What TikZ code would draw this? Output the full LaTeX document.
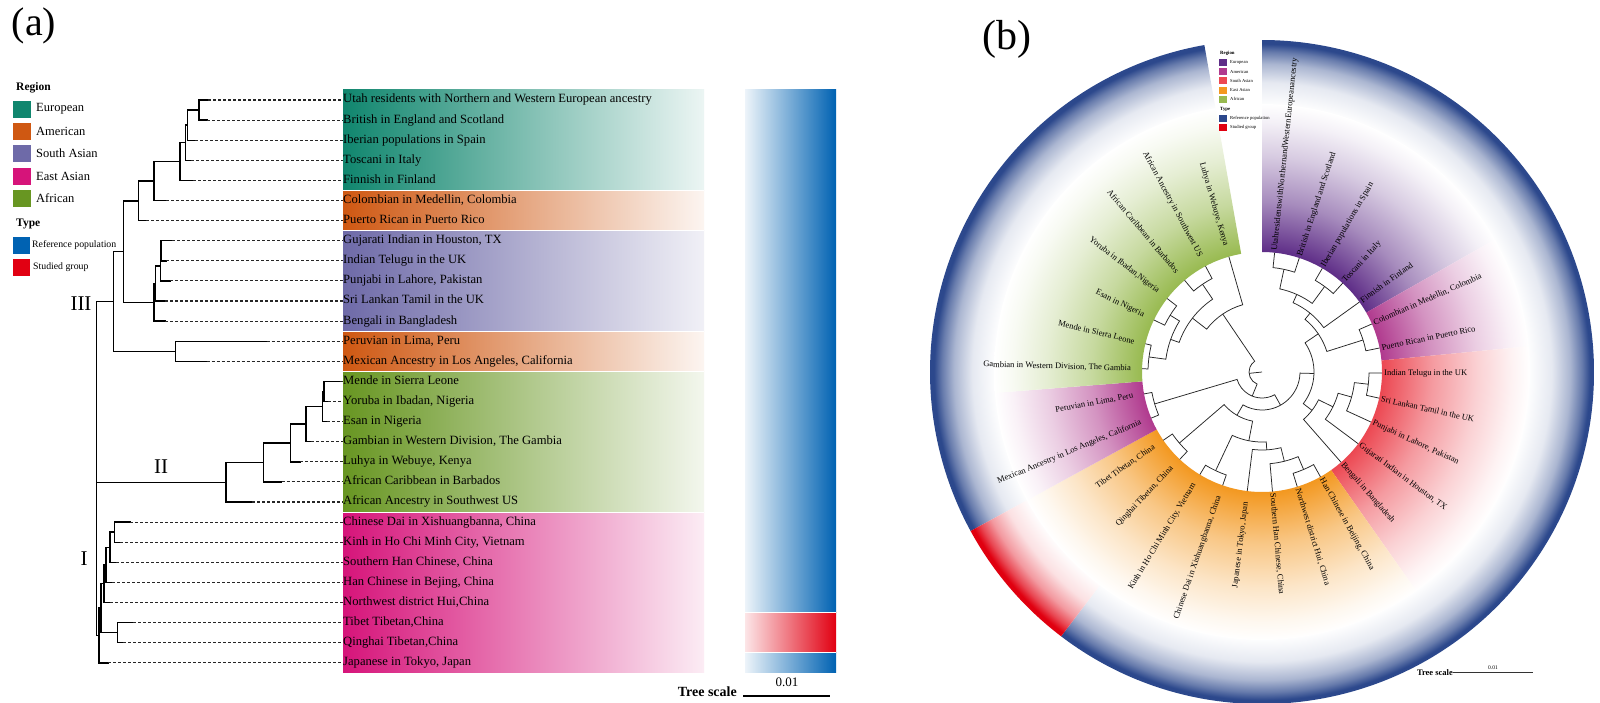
\documentclass[tikz,border=0pt]{standalone}
\usepackage{fontspec}
\setmainfont{Liberation Serif}
\usetikzlibrary{calc}
% panel a colours
\definecolor{eu}{RGB}{16,134,110}
\definecolor{am}{RGB}{207,88,18}
\definecolor{sa}{RGB}{110,106,168}
\definecolor{ea}{RGB}{214,20,122}
\definecolor{af}{RGB}{104,150,34}
\definecolor{refa}{RGB}{0,98,178}
\definecolor{stud}{RGB}{225,0,18}
% panel b colours
\definecolor{eub}{RGB}{94,45,135}
\definecolor{amb}{RGB}{176,58,142}
\definecolor{sab}{RGB}{236,72,82}
\definecolor{eab}{RGB}{243,152,32}
\definecolor{afb}{RGB}{152,186,80}
\definecolor{refb}{RGB}{44,72,140}
\definecolor{studb}{RGB}{224,0,16}
\newcommand\mkshades[1]{%
  \colorlet{#1A}{#1!55!white}\colorlet{#1B}{#1!25!white}\colorlet{#1C}{#1!7!white}%
  \pgfdeclareradialshading{sec#1}{\pgfpoint{0bp}{0bp}}{color(0bp)=(#1); color(11.2bp)=(#1); color(15.9bp)=(#1A); color(20.1bp)=(#1B); color(23.3bp)=(#1C); color(25bp)=(white); color(50bp)=(white)}}
\mkshades{eub}\mkshades{amb}\mkshades{sab}\mkshades{eab}\mkshades{afb}
\newcommand\mkring[1]{%
  \colorlet{#1R}{#1!12!white}\colorlet{#1S}{#1!40!white}\colorlet{#1T}{#1!72!white}%
  \pgfdeclareradialshading{ring#1}{\pgfpoint{0bp}{0bp}}{color(0bp)=(white); color(20bp)=(white); color(21.8bp)=(#1R); color(23.2bp)=(#1S); color(24.1bp)=(#1T); color(24.7bp)=(#1); color(25bp)=(#1); color(50bp)=(#1)}}
\mkring{refb}\mkring{studb}
\newcommand\fsz[1]{\fontsize{#1}{#1}\selectfont}
% panel a tree helpers
\newcommand\tipa[3]{\draw[tra] (#2,-#1) -- (#3,-#1); \draw[dsh] (#3,-#1) -- (343,-#1);}
\newcommand\vla[3]{\draw[tra] (#1,-#2) -- (#1,-#3);}
\newcommand\hla[3]{\draw[tra] (#2,-#1) -- (#3,-#1);}
% panel b helpers
\newcommand\btnode[6]{%
  \draw[btree] ($(C)+({#3}:#4)$) -- ($(C)+({#3}:#2)$) arc[start angle={#3}, end angle={#5}, radius=#2] -- ($(C)+({#5}:#6)$);
  \pgfmathsetmacro#1{(#3+#5)/2}}
\newcommand\secclip[4]{\clip ($(C)+({#1}:#3)$) arc[start angle={#1}, end angle={#2}, radius=#3] -- ($(C)+({#2}:#4)$) arc[start angle={#2}, end angle={#1}, radius=#4] -- cycle;}
\begin{document}
\begin{tikzpicture}[x=1pt,y=1pt,
  tra/.style={line width=1.4pt, black, line cap=rect},
  dsh/.style={line width=1.1pt, black!85, dash pattern=on 3pt off 2pt},
  lab/.style={anchor=west, inner sep=0pt, font=\fsz{12.6}, text height=8.5pt, text depth=2.6pt},
  lgt/.style={anchor=west, inner sep=0pt, font=\fsz{12.5}},
  btree/.style={line width=0.75pt, black!85},
  blab/.style={inner sep=0pt, font=\fsz{8.5}},
  lgb/.style={anchor=west, inner sep=0pt, font=\fsz{4.6}}]
\useasboundingbox (0,0) rectangle (1600,-702);
\fill[white] (0,0) rectangle (1600,-702);
% ================= panel (a) =================
\node[font=\fsz{40}] (pa) at (34,-26) {(a)};
% legend
\node[lgt, font=\bfseries\fsz{11.5}] (lgR) at (16,-88) {Region};
\fill[eu] (13,-100.5) rectangle (31,-117.5);
\node[lgt] (lg1) at (36,-109) {European};
\fill[am] (13,-122.5) rectangle (31,-139.5);
\node[lgt] (lg2) at (36,-131) {American};
\fill[sa] (13,-144.5) rectangle (31,-161.5);
\node[lgt] (lg3) at (36,-153) {South Asian};
\fill[ea] (13,-167.5) rectangle (31,-184.5);
\node[lgt] (lg4) at (36,-176) {East Asian};
\fill[af] (13,-189.5) rectangle (31,-206.5);
\node[lgt] (lg5) at (36,-198) {African};
\node[lgt, font=\bfseries\fsz{11.5}] (lgT) at (16,-224) {Type};
\fill[refa] (13,-236.5) rectangle (30,-253.5);
\node[lgt, font=\fsz{9.8}] (lg6) at (32,-245) {Reference population};
\fill[stud] (13,-258.5) rectangle (30,-275.5);
\node[lgt, font=\fsz{9.8}] (lg7) at (33,-267) {Studied group};
% coloured bands
\shade[left color=eu, middle color=eu!33!white, right color=eu!8!white] (343,-89.95) rectangle (704,-190.45);
\shade[left color=am, middle color=am!30!white, right color=am!6!white] (343,-190.45) rectangle (704,-230.65);
\shade[left color=sa, middle color=sa!33!white, right color=sa!10!white] (343,-230.65) rectangle (704,-331.15);
\shade[left color=am, middle color=am!30!white, right color=am!6!white] (343,-331.15) rectangle (704,-371.35);
\shade[left color=af, middle color=af!30!white, right color=af!8!white] (343,-371.35) rectangle (704,-512.05);
\shade[left color=ea, middle color=ea!38!white, right color=ea!8!white] (343,-512.05) rectangle (704,-672.85);
\foreach \yy in {190.45,230.65,331.15,371.35,512.05} \draw[white, line width=0.8pt] (343,-\yy) -- (704,-\yy);
% type bar
\shade[left color=refa!7!white, middle color=refa!35!white, right color=refa] (745,-89.95) rectangle (836,-612.55);
\shade[left color=stud!10!white, middle color=stud!35!white, right color=stud] (745,-612.55) rectangle (836,-652.75);
\shade[left color=refa!7!white, middle color=refa!35!white, right color=refa] (745,-652.75) rectangle (836,-672.85);
\draw[white, line width=0.8pt] (745,-612.55) -- (836,-612.55) (745,-652.75) -- (836,-652.75);
% labels
\node[lab] (la1) at (343,-100) {Utah residents with Northern and Western European ancestry};
\node[lab] (la2) at (343,-120.1) {British in England and Scotland};
\node[lab] (la3) at (343,-140.2) {Iberian populations in Spain};
\node[lab] (la4) at (343,-160.3) {Toscani in Italy};
\node[lab] (la5) at (343,-180.4) {Finnish in Finland};
\node[lab] (la6) at (343,-200.5) {Colombian in Medellin, Colombia};
\node[lab] (la7) at (343,-220.6) {Puerto Rican in Puerto Rico};
\node[lab] (la8) at (343,-240.7) {Gujarati Indian in Houston, TX};
\node[lab] (la9) at (343,-260.8) {Indian Telugu in the UK};
\node[lab] (la10) at (343,-280.9) {Punjabi in Lahore, Pakistan};
\node[lab] (la11) at (343,-301.0) {Sri Lankan Tamil in the UK};
\node[lab] (la12) at (343,-321.1) {Bengali in Bangladesh};
\node[lab] (la13) at (343,-341.2) {Peruvian in Lima, Peru};
\node[lab] (la14) at (343,-361.3) {Mexican Ancestry in Los Angeles, California};
\node[lab] (la15) at (343,-381.4) {Mende in Sierra Leone};
\node[lab] (la16) at (343,-401.5) {Yoruba in Ibadan, Nigeria};
\node[lab] (la17) at (343,-421.6) {Esan in Nigeria};
\node[lab] (la18) at (343,-441.7) {Gambian in Western Division, The Gambia};
\node[lab] (la19) at (343,-461.8) {Luhya in Webuye, Kenya};
\node[lab] (la20) at (343,-481.9) {African Caribbean in Barbados};
\node[lab] (la21) at (343,-502.0) {African Ancestry in Southwest US};
\node[lab] (la22) at (343,-522.1) {Chinese Dai in Xishuangbanna, China};
\node[lab] (la23) at (343,-542.2) {Kinh in Ho Chi Minh City, Vietnam};
\node[lab] (la24) at (343,-562.3) {Southern Han Chinese, China};
\node[lab] (la25) at (343,-582.4) {Han Chinese in Bejing, China};
\node[lab] (la26) at (343,-602.5) {Northwest district Hui,China};
\node[lab] (la27) at (343,-622.6) {Tibet Tibetan,China};
\node[lab] (la28) at (343,-642.7) {Qinghai Tibetan,China};
\node[lab] (la29) at (343,-662.8) {Japanese in Tokyo, Japan};
% tree tips
\tipa{100}{199}{208}
\tipa{120.1}{199}{207}
\tipa{140.2}{187.7}{195}
\tipa{160.3}{185.7}{191}
\tipa{180.4}{180}{193}
\tipa{200.5}{154}{166}
\tipa{220.6}{138.3}{146}
\tipa{240.7}{161}{172}
\tipa{260.8}{161}{166}
\tipa{280.9}{160.5}{170}
\tipa{301.0}{155.5}{165}
\tipa{321.1}{154}{165}
\tipa{341.2}{175.7}{266.7}
\tipa{361.3}{175.7}{206.7}
\tipa{381.4}{324}{340}
\tipa{401.5}{324}{328}
\tipa{421.6}{322.3}{327}
\tipa{441.7}{306}{311}
\tipa{461.8}{290.7}{300}
\tipa{481.9}{263.3}{281.7}
\tipa{502.0}{226}{252}
\tipa{522.1}{114.3}{130}
\tipa{542.2}{114.3}{120}
\tipa{562.3}{110}{116}
\tipa{582.4}{106}{112}
\tipa{602.5}{104}{110}
\tipa{622.6}{117.3}{133}
\tipa{642.7}{117.3}{123}
\tipa{662.8}{99}{108}
% internal verticals
\vla{199}{100}{120.1}
\vla{187.7}{110.05}{140.2}
\vla{185.7}{125.1}{160.3}
\vla{180}{142.7}{180.4}
\vla{154}{161.55}{200.5}
\vla{138.3}{181.0}{220.6}
\vla{161}{240.7}{260.8}
\vla{160.5}{250.75}{280.9}
\vla{155.5}{265.8}{301.0}
\vla{154}{283.4}{321.1}
\vla{123.3}{200.8}{302.25}
\vla{175.7}{341.2}{361.3}
\vla{113.3}{251.5}{351.25}
\vla{324}{381.4}{401.5}
\vla{322.3}{391.45}{421.6}
\vla{306}{406.5}{441.7}
\vla{290.7}{424.1}{461.8}
\vla{263.3}{442.95}{481.9}
\vla{226}{462.4}{502.0}
\vla{114.3}{522.1}{542.2}
\vla{110}{532.15}{562.3}
\vla{106}{547.2}{582.4}
\vla{104}{564.8}{602.5}
\vla{117.3}{622.6}{642.7}
\vla{101}{583.65}{632.65}
\vla{99}{608.15}{662.8}
\vla{96.7}{301.4}{635.5}
% internal horizontals
\hla{110.05}{187.7}{199}
\hla{125.1}{185.7}{187.7}
\hla{142.7}{180}{185.7}
\hla{161.55}{154}{180}
\hla{181.0}{138.3}{154}
\hla{250.75}{160.5}{161}
\hla{265.8}{155.5}{160.5}
\hla{283.4}{154}{155.5}
\hla{200.8}{123.3}{138.3}
\hla{302.25}{123.3}{154}
\hla{251.5}{113.3}{123.3}
\hla{351.25}{113.3}{175.7}
\hla{391.45}{322.3}{324}
\hla{406.5}{306}{322.3}
\hla{424.1}{290.7}{306}
\hla{442.95}{263.3}{290.7}
\hla{462.4}{226}{263.3}
\hla{532.15}{110}{114.3}
\hla{547.2}{106}{110}
\hla{564.8}{104}{106}
\hla{583.65}{101}{104}
\hla{632.65}{101}{117.3}
\hla{608.15}{99}{101}
\hla{301.4}{96.7}{113.3}
\hla{482.2}{96.7}{226}
\hla{635.5}{96.7}{99}
% clade labels
\node[font=\fsz{21}] (cIII) at (81,-303.3) {III};
\node[font=\fsz{21}] (cII) at (161,-466.7) {II};
\node[font=\fsz{21}] (cI) at (84,-558.3) {I};
% tree scale
\node[font=\bfseries\fsz{14}, anchor=east, inner sep=0pt] (tsa) at (737,-692) {Tree scale};
\coordinate (sa1) at (743,-696);
\coordinate (sa2) at (830,-696);
\draw[line width=1.4pt] (sa1) -- (sa2);
\node[font=\fsz{13}] (tsv) at (787,-682) {0.01};
% ================= panel (b) =================
\node[font=\fsz{42}] (pb) at (1007,-39) {(b)};
\coordinate (C) at (1262,-372);
% outer ring
\begin{scope}\secclip{90}{-127.24}{250}{332}\shade[shading=ringrefb] (C) circle (332);\end{scope}
\begin{scope}\secclip{-151.38}{-260}{250}{332}\shade[shading=ringrefb] (C) circle (332);\end{scope}
\begin{scope}\secclip{-127.24}{-151.38}{250}{332}\shade[shading=ringstudb] (C) circle (332);\end{scope}
% coloured ranges
\begin{scope}\secclip{90}{29.655}{120}{268}\shade[shading=seceub] (C) circle (268);\end{scope}
\begin{scope}\secclip{29.655}{5.517}{120}{268}\shade[shading=secamb] (C) circle (268);\end{scope}
\begin{scope}\secclip{5.517}{-54.828}{120}{268}\shade[shading=secsab] (C) circle (268);\end{scope}
\begin{scope}\secclip{-54.828}{-151.38}{120}{268}\shade[shading=seceab] (C) circle (268);\end{scope}
\begin{scope}\secclip{-151.38}{-175.52}{120}{268}\shade[shading=secamb] (C) circle (268);\end{scope}
\begin{scope}\secclip{-175.52}{-260}{120}{268}\shade[shading=secafb] (C) circle (268);\end{scope}
% circular tree
\btnode{\btEab}{105}{83.97}{120}{71.90}{120}
\btnode{\btEcd}{106}{59.83}{120}{47.76}{120}
\btnode{\btEad}{85}{\btEab}{105}{\btEcd}{106}
\btnode{\btEu}{76}{\btEad}{85}{35.69}{120}
\btnode{\btAm}{106}{23.62}{120}{11.55}{120}
\btnode{\btEA}{68}{\btEu}{76}{\btAm}{106}
\btnode{\btSab}{107}{-0.52}{120}{-12.59}{120}
\btnode{\btSac}{93}{\btSab}{107}{-24.66}{120}
\btnode{\btSad}{79}{\btSac}{93}{-36.72}{120}
\btnode{\btSA}{63}{\btSad}{79}{-48.79}{120}
\btnode{\btEuSA}{52}{\btEA}{68}{\btSA}{63}
\btnode{\btHa}{106}{-60.86}{120}{-72.93}{120}
\btnode{\btHb}{92}{\btHa}{106}{-85.00}{120}
\btnode{\btHc}{78}{\btHb}{92}{-97.07}{120}
\btnode{\btDK}{109}{-109.14}{120}{-121.21}{120}
\btnode{\btHd}{70}{\btHc}{78}{\btDK}{109}
\btnode{\btT}{109}{-133.28}{120}{-145.34}{120}
\btnode{\btEast}{50}{\btHd}{70}{\btT}{109}
\btnode{\btX}{38}{\btEuSA}{52}{\btEast}{50}
\btnode{\btMP}{112}{-157.41}{120}{-169.48}{120}
\btnode{\btY}{26}{\btX}{38}{\btMP}{112}
\btnode{\btGM}{114}{-181.55}{120}{-193.62}{120}
\btnode{\btEY}{108}{-205.69}{120}{-217.76}{120}
\btnode{\btAfa}{97}{\btGM}{114}{\btEY}{108}
\btnode{\btCA}{106}{-229.83}{120}{-241.90}{120}
\btnode{\btAfb}{88}{\btAfa}{97}{\btCA}{106}
\btnode{\btAf}{70}{\btAfb}{88}{-253.97}{120}
\btnode{\btR}{13}{\btY}{26}{\btAf}{70}
\draw[btree] (C) -- ($(C)+({\btR}:13)$);
% leaf labels, right half
\node[blab, anchor=west, rotate=83.97] (lb1) at ($(C)+(83.97:122)$) {UtahresidentswithNorthernandWesternEuropeanancestry};
\node[blab, anchor=west, rotate=71.90] (lb2) at ($(C)+(71.90:122)$) {British in England and Scotland};
\node[blab, anchor=west, rotate=59.83] (lb3) at ($(C)+(59.83:122)$) {Iberian populations in Spain};
\node[blab, anchor=west, rotate=47.76] (lb4) at ($(C)+(47.76:122)$) {Toscani in Italy};
\node[blab, anchor=west, rotate=35.69] (lb5) at ($(C)+(35.69:122)$) {Finnish in Finland};
\node[blab, anchor=west, rotate=23.62] (lb6) at ($(C)+(23.62:122)$) {Colombian in Medellin, Colombia};
\node[blab, anchor=west, rotate=11.55] (lb7) at ($(C)+(11.55:122)$) {Puerto Rican in Puerto Rico};
\node[blab, anchor=west, rotate=-0.52] (lb8) at ($(C)+(-0.52:122)$) {Indian Telugu in the UK};
\node[blab, anchor=west, rotate=-12.59] (lb9) at ($(C)+(-12.59:122)$) {Sri Lankan Tamil in the UK};
\node[blab, anchor=west, rotate=-24.66] (lb10) at ($(C)+(-24.66:122)$) {Punjabi in Lahore, Pakistan};
\node[blab, anchor=west, rotate=-36.72] (lb11) at ($(C)+(-36.72:122)$) {Gujarati Indian in Houston, TX};
\node[blab, anchor=west, rotate=-48.79] (lb12) at ($(C)+(-48.79:122)$) {Bengali in Bangladesh};
\node[blab, anchor=west, rotate=-60.86] (lb13) at ($(C)+(-60.86:122)$) {Han Chinese in Beijing, China};
\node[blab, anchor=west, rotate=-72.93] (lb14) at ($(C)+(-72.93:122)$) {Northwest district Hui, China};
\node[blab, anchor=west, rotate=-85.00] (lb15) at ($(C)+(-85.00:122)$) {Southern Han Chinese, China};
% leaf labels, left half
\node[blab, anchor=east, rotate=82.93] (lb16) at ($(C)+(-97.07:131)$) {Japanese in Tokyo, Japan};
\node[blab, anchor=east, rotate=70.86] (lb17) at ($(C)+(-109.14:131)$) {Chinese Dai in Xishuangbanna, China};
\node[blab, anchor=east, rotate=58.79] (lb18) at ($(C)+(-121.21:131)$) {Kinh in Ho Chi Minh City, Vietnam};
\node[blab, anchor=east, rotate=46.72] (lb19) at ($(C)+(-133.28:131)$) {Qinghai Tibetan, China};
\node[blab, anchor=east, rotate=34.66] (lb20) at ($(C)+(-145.34:131)$) {Tibet Tibetan, China};
\node[blab, anchor=east, rotate=22.59] (lb21) at ($(C)+(-157.41:131)$) {Mexican Ancestry in Los Angeles, California};
\node[blab, anchor=east, rotate=10.52] (lb22) at ($(C)+(-169.48:131)$) {Peruvian in Lima, Peru};
\node[blab, anchor=east, rotate=-1.55] (lb23) at ($(C)+(-181.55:131)$) {Gambian in Western Division, The Gambia};
\node[blab, anchor=east, rotate=-13.62] (lb24) at ($(C)+(-193.62:131)$) {Mende in Sierra Leone};
\node[blab, anchor=east, rotate=-25.69] (lb25) at ($(C)+(-205.69:131)$) {Esan in Nigeria};
\node[blab, anchor=east, rotate=-37.76] (lb26) at ($(C)+(-217.76:131)$) {Yoruba in Ibadan,Nigeria};
\node[blab, anchor=east, rotate=-49.83] (lb27) at ($(C)+(-229.83:131)$) {African Caribbean in Barbados};
\node[blab, anchor=east, rotate=-61.90] (lb28) at ($(C)+(-241.90:131)$) {African Ancestry in Southwest US};
\node[blab, anchor=east, rotate=-73.97] (lb29) at ($(C)+(-253.97:131)$) {Luhya in Webuye, Kenya};
% legend (b)
\node[lgb, font=\bfseries\fsz{4.8}] (bR) at (1220,-53) {Region};
\fill[eub] (1219,-58.8) rectangle (1226.5,-65.8);
\node[lgb] (b1) at (1230,-62.3) {European};
\fill[amb] (1219,-68.2) rectangle (1226.5,-75.2);
\node[lgb] (b2) at (1230,-71.7) {American};
\fill[sab] (1219,-77.2) rectangle (1226.5,-84.2);
\node[lgb] (b3) at (1230,-80.7) {South Asian};
\fill[eab] (1219,-86.5) rectangle (1226.5,-93.5);
\node[lgb] (b4) at (1230,-90) {East Asian};
\fill[afb] (1219,-95.8) rectangle (1226.5,-102.8);
\node[lgb] (b5) at (1230,-99.3) {African};
\node[lgb, font=\bfseries\fsz{4.8}] (bT) at (1220,-109.3) {Type};
\fill[refb] (1219,-114.5) rectangle (1226.5,-121.5);
\node[lgb] (b6) at (1230,-118) {Reference population};
\fill[studb] (1219,-123.8) rectangle (1226.5,-130.8);
\node[lgb] (b7) at (1230,-127.3) {Studied group};
% tree scale (b)
\node[font=\bfseries\fsz{8.5}, anchor=east, inner sep=0pt] (tsb) at (1453,-673) {Tree scale};
\coordinate (sb1) at (1453,-672);
\coordinate (sb2) at (1533,-672);
\draw[line width=0.6pt, black!80] (sb1) -- (sb2);
\node[font=\fsz{5.5}] (tsbv) at (1493,-668) {0.01};
\end{tikzpicture}
\end{document}
